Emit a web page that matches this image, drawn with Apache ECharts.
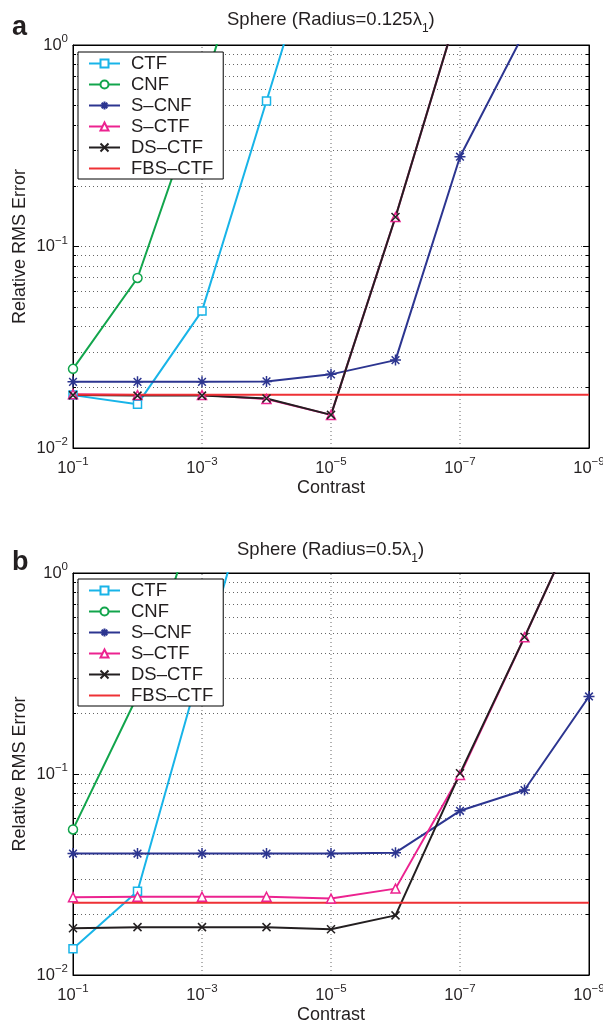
<!DOCTYPE html>
<html>
<head>
<meta charset="utf-8">
<script src="https://cdn.jsdelivr.net/npm/echarts@6/dist/echarts.min.js"></script>
<style>
  html, body { margin: 0; padding: 0; background: #fff; }
  #chart { width: 603px; height: 1023px; }
</style>
</head>
<body>
<div id="chart"></div>
<script>
// contrast levels, one per decade
const contrast = [1e-1, 1e-2, 1e-3, 1e-4, 1e-5, 1e-6, 1e-7, 1e-8, 1e-9];
// dotted vertical grid at the labelled decades
const xGrid = [1e-3, 1e-5, 1e-7];
const yRange = [0.01, 1];

const seriesNames = ['CTF', 'CNF', 'S–CNF', 'S–CTF', 'DS–CTF', 'FBS–CTF'];

// panel a : sphere radius 0.125 lambda1
const ctfA = [0.0183, 0.0165, 0.0479, 0.527, 5.9];
const cnfA = [0.0247, 0.0698, 0.59, 6.0];
const scnfA = [0.0213, 0.0213, 0.0213, 0.0214, 0.0232, 0.0273, 0.279, 1.16];
const sctfA = [0.0185, 0.0183, 0.0183, 0.0175, 0.0146, 0.140, 1.6];
const dsctfA = [0.0183, 0.0182, 0.0182, 0.0176, 0.0146, 0.140, 1.6];
const fbsA = [0.0184, 0.0184, 0.0184, 0.0184, 0.0184, 0.0184, 0.0184, 0.0184, 0.0184];

// panel b : sphere radius 0.5 lambda1
const ctfB = [0.0135, 0.0261, 0.358, 4.8];
const cnfB = [0.053, 0.245, 2.4];
const scnfB = [0.0402, 0.0402, 0.0402, 0.0402, 0.0402, 0.0406, 0.0656, 0.0832, 0.243];
const sctfB = [0.0244, 0.0245, 0.0245, 0.0245, 0.0240, 0.0269, 0.0989, 0.479, 2.4];
const dsctfB = [0.0171, 0.0173, 0.0173, 0.0173, 0.0169, 0.0198, 0.1008, 0.48, 2.4];
const fbsB = [0.0229, 0.0229, 0.0229, 0.0229, 0.0229, 0.0229, 0.0229, 0.0229, 0.0229];

const FONT = '"Liberation Sans", Arial, Helvetica, sans-serif';
const TXT = '#231f20';

// look of each method (same order as seriesNames)
const colors = ['#18b4e8', '#12a54c', '#2c3590', '#ec2390', '#231f20', '#ee3135'];
const ASTER = 'path://M5,0L5,10M0,5L10,5M1.5,1.5L8.5,8.5M1.5,8.5L8.5,1.5';
const CROSS = 'path://M0,0L10,10M0,10L10,0';
const symbols = ['rect', 'circle', ASTER, 'triangle', CROSS, 'none'];
const fills = ['#fff', '#fff', 'none', '#fff', 'none', '#fff'];
const sizes = [8, 9, 11, 9, 8, 0];

function pairs(vals) {
  return vals.map((v, i) => [contrast[i], v]);
}

function powLabel(v, skipEven) {
  const e = Math.round(Math.log10(v));
  if (skipEven && e % 2 === 0) return '';
  return '{b|10}{s|' + (e < 0 ? '−' + (-e) : e) + '}';
}

const labelRich = {
  b: { fontSize: 16.5, fontFamily: FONT, color: TXT },
  s: { fontSize: 11.5, fontFamily: FONT, color: TXT, padding: [0, 0, 12, 0] }
};

function makeSeries(panel, dataList) {
  const out = dataList.map((vals, k) => ({
    name: seriesNames[k],
    type: 'line',
    xAxisIndex: panel * 2,
    yAxisIndex: panel * 2,
    data: pairs(vals),
    symbol: symbols[k],
    symbolSize: sizes[k],
    showSymbol: symbols[k] !== 'none',
    lineStyle: { color: colors[k], width: 2 },
    itemStyle: k === 5 ? { color: colors[k] }
      : { color: fills[k], borderColor: colors[k], borderWidth: 1.5 },
    emphasis: { disabled: true },
    z: 3,
    clip: true
  }));
  // dotted vertical grid lines, drawn under the data
  xGrid.forEach(v => {
    out.unshift({
      name: 'grid',
      type: 'line',
      xAxisIndex: panel * 2,
      yAxisIndex: panel * 2,
      data: [[v, yRange[0]], [v, yRange[1]]],
      symbol: 'none',
      silent: true,
      z: 1,
      lineStyle: { type: [1, 3], color: '#666', width: 1 },
      emphasis: { disabled: true }
    });
  });
  return out;
}

const grids = [
  { left: 73, top: 45, width: 516, height: 403 },
  { left: 73, top: 573, width: 516, height: 402 }
];

const xAxes = [];
const yAxes = [];
grids.forEach((g, i) => {
  xAxes.push({
    type: 'log', gridIndex: i, min: 1e-9, max: 1e-1, inverse: true,
    name: 'Contrast', nameLocation: 'middle', nameGap: 31, nameMoveOverlap: false,
    nameTextStyle: { fontSize: 18, fontFamily: FONT, color: TXT },
    axisLine: { show: true, lineStyle: { color: '#000', width: 1 } },
    axisTick: { show: false },
    splitLine: { show: false },
    axisLabel: { formatter: v => powLabel(v, true), margin: 8, rich: labelRich }
  });
  xAxes.push({
    type: 'log', gridIndex: i, min: 1e-9, max: 1e-1, inverse: true, position: 'top',
    axisLine: { show: true, lineStyle: { color: '#000', width: 1 } },
    axisTick: { show: false }, axisLabel: { show: false }, splitLine: { show: false }
  });
  yAxes.push({
    type: 'log', gridIndex: i, min: yRange[0], max: yRange[1],
    name: 'Relative RMS Error', nameLocation: 'middle', nameGap: 44, nameMoveOverlap: false,
    nameTextStyle: { fontSize: 18, fontFamily: FONT, color: TXT },
    axisLine: { show: true, lineStyle: { color: '#000', width: 1 } },
    axisTick: { show: true, inside: true, length: 6, lineStyle: { color: '#000' } },
    minorTick: { show: true, splitNumber: 9, length: 3, lineStyle: { color: '#000' } },
    splitLine: { show: true, lineStyle: { type: [1, 3], color: '#666' } },
    minorSplitLine: { show: true, lineStyle: { type: [1, 3], color: '#666' } },
    axisLabel: { formatter: v => powLabel(v, false), margin: 5, rich: labelRich }
  });
  yAxes.push({
    type: 'log', gridIndex: i, min: yRange[0], max: yRange[1], position: 'right',
    axisLine: { show: true, lineStyle: { color: '#000', width: 1 } },
    axisTick: { show: true, inside: true, length: 6, lineStyle: { color: '#000' } },
    minorTick: { show: true, splitNumber: 9, length: 3, lineStyle: { color: '#000' } },
    axisLabel: { show: false }, splitLine: { show: false }
  });
});

// FBS-CTF has no marker: plain red bar as its legend icon
const legendItems = seriesNames.map(n =>
  n === 'FBS–CTF' ? { name: n, icon: 'path://M0,0L31,0L31,2L0,2Z' } : { name: n });

const legendBase = {
  data: legendItems,
  orient: 'vertical',
  left: 78,
  itemWidth: 31,
  itemHeight: 10,
  itemGap: 2,
  selectedMode: false,
  padding: [2, 10, 1, 10],
  backgroundColor: '#fff',
  borderColor: '#000',
  borderWidth: 1,
  textStyle: { fontSize: 18.5, fontFamily: FONT, color: TXT, padding: [0, 0, 0, 6] }
};

const subRich = { sub: { fontSize: 12, fontFamily: FONT, color: TXT, padding: [18, 0, 0, 0] } };
const tagStyle = { fontSize: 27, fontWeight: 'bold', fontFamily: FONT, color: TXT };
const headStyle = { fontSize: 18.5, fontWeight: 'normal', fontFamily: FONT, color: TXT, rich: subRich };

const option = {
  animation: false,
  backgroundColor: '#fff',
  title: [
    { text: 'a', left: 12, top: 14, padding: 0, textStyle: tagStyle },
    { text: 'Sphere (Radius=0.125λ{sub|1})', left: 227, top: 5, padding: 0, textStyle: headStyle },
    { text: 'b', left: 12, top: 549, padding: 0, textStyle: tagStyle },
    { text: 'Sphere (Radius=0.5λ{sub|1})', left: 237, top: 535, padding: 0, textStyle: headStyle }
  ],
  legend: [
    Object.assign({}, legendBase, { top: 52 }),
    Object.assign({}, legendBase, { top: 579 })
  ],
  grid: grids.map(g => Object.assign({
    show: true, borderColor: '#000', borderWidth: 1,
    containLabel: false, outerBoundsMode: 'none'
  }, g)),
  xAxis: xAxes,
  yAxis: yAxes,
  series: makeSeries(0, [ctfA, cnfA, scnfA, sctfA, dsctfA, fbsA])
    .concat(makeSeries(1, [ctfB, cnfB, scnfB, sctfB, dsctfB, fbsB]))
};

const chart = echarts.init(document.getElementById('chart'), null, { renderer: 'canvas' });
chart.setOption(option);
</script>
</body>
</html>
